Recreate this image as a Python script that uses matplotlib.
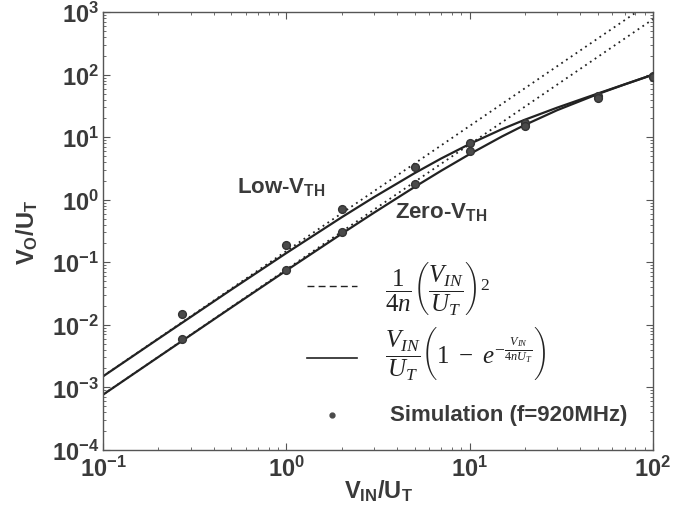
import math
import matplotlib
matplotlib.use("Agg")
import matplotlib.pyplot as plt
from matplotlib.ticker import LogLocator, FuncFormatter, NullFormatter
from matplotlib.lines import Line2D
from matplotlib.transforms import Bbox

plt.rcParams['mathtext.fontset'] = 'custom'
plt.rcParams['mathtext.rm'] = 'Liberation Serif'
plt.rcParams['mathtext.it'] = 'Liberation Serif:italic'
plt.rcParams['mathtext.bf'] = 'Liberation Sans:bold'
plt.rcParams['font.family'] = ['Liberation Sans', 'DejaVu Sans']

# ---- data ----
x_curve = [0.1, 0.2, 0.5, 1, 2, 3, 5, 7, 10, 15, 20, 30, 50, 70, 100]
low_solid = [0.001504, 0.00597, 0.0365, 0.1406, 0.523, 1.096, 2.656, 4.577,
             7.80, 13.45, 19.03, 29.68, 49.97, 70.0, 100.0]
zero_solid = [0.000766, 0.003053, 0.01887, 0.0740, 0.2851, 0.618, 1.597, 2.915,
              5.366, 10.27, 15.71, 27.02, 48.93, 69.68, 99.95]
x_quad = [0.1, 1, 10, 100]
low_quad = [0.001515, 0.1515, 15.15, 1515.0]
zero_quad = [0.000769, 0.0769, 7.69, 769.0]

x_sim = [0.27, 1, 2, 5, 10, 20, 50, 100]
low_sim = [0.015, 0.19, 0.70, 3.3, 8.0, 17.0, 45.0, 96.0]
zero_sim = [0.006, 0.075, 0.30, 1.8, 6.0, 15.0, 43.0, 92.0]

W, H = 688, 506
txt = '#3a3a3a'
fig = plt.figure(figsize=(W / 100, H / 100), dpi=100)
ax = fig.add_axes([0.150, 0.109, 0.799, 0.865])

ax.plot(x_quad, low_quad, color='#222222', lw=1.3, ls=(0, (1, 2.2)))
ax.plot(x_quad, zero_quad, color='#222222', lw=1.3, ls=(0, (1, 2.2)))
ax.plot(x_curve, low_solid, color='#222222', lw=1.6)
ax.plot(x_curve, zero_solid, color='#222222', lw=1.6)
ax.plot(x_sim, low_sim, 'o', color='#4a4a4a', ms=5.6, mec='#333333', zorder=5)
ax.plot(x_sim, zero_sim, 'o', color='#4a4a4a', ms=5.6, mec='#333333', zorder=5)

ax.set_xscale('log')
ax.set_yscale('log')
ax.set_xlim(0.1, 100)
ax.set_ylim(1e-4, 1e3)

fmt = FuncFormatter(lambda v, p: r'$\mathbf{10^{%d}}$' % round(math.log10(v)))
ax.xaxis.set_major_locator(LogLocator(base=10, numticks=10))
ax.yaxis.set_major_locator(LogLocator(base=10, numticks=10))
ax.xaxis.set_minor_locator(LogLocator(base=10, subs=range(2, 10), numticks=10))
ax.yaxis.set_minor_locator(LogLocator(base=10, subs=range(2, 10), numticks=10))
ax.xaxis.set_major_formatter(fmt)
ax.yaxis.set_major_formatter(fmt)
ax.xaxis.set_minor_formatter(NullFormatter())
ax.yaxis.set_minor_formatter(NullFormatter())
ax.tick_params(which='both', direction='in', top=True, right=True, colors='#555555',
               labelcolor=txt, labelsize=17)
ax.tick_params(which='major', length=5, width=0.8)
ax.tick_params(which='minor', length=2.5, width=0.6)
ax.tick_params(axis='x', pad=4)
ax.tick_params(axis='y', pad=3)
for s in ax.spines.values():
    s.set_color('#555555')
    s.set_linewidth(1.0)

ax.set_xlabel(r'$\mathbf{V_{IN}/U_{T}}$', fontsize=17, color=txt)
ax.xaxis.set_label_coords(0.5, -0.062)
ax.set_ylabel(r'$\mathbf{V_{O}/U_{T}}$', fontsize=17, color=txt)
ax.yaxis.set_label_coords(-0.115, 0.5)

ax.text(0.54, 1.64, r'Low-$\mathbf{V_{TH}}$', fontsize=16, fontweight='bold', color=txt,
        ha='left', va='center')
ax.text(3.92, 0.655, r'Zero-$\mathbf{V_{TH}}$', fontsize=16, fontweight='bold', color=txt,
        ha='left', va='center')

# custom legend (figure pixel positions converted to figure fractions)
def fx(px):
    return px / W

def fy(py):
    return 1 - py / H

fml = 18
fig.add_artist(Line2D([fx(307), fx(357)], [fy(287), fy(287)], color='#222222', lw=1.0,
                      ls=(0, (5, 3))))
fig.text(fx(385), fy(299), r'$\dfrac{1}{4n}\left(\dfrac{V_{IN}}{U_T}\right)^2$',
         fontsize=fml, ha='left', va='baseline', color='#222222')

fig.add_artist(Line2D([fx(307), fx(357)], [fy(359), fy(359)], color='#222222', lw=1.2))
# the trailing (hidden) fraction only serves to size the closing parenthesis
f2 = fig.text(fx(385), fy(364),
              r'$\left.\dfrac{V_{IN}}{U_T}\right(1\ -\ e^{-\frac{V_{IN}}{4nU_T}}'
              r'\left)\qquad\dfrac{V_{IN}}{U_T}\right.$',
              fontsize=fml, ha='left', va='baseline', color='#222222')
probe = fig.text(0, 0, r'$\dfrac{V_{IN}}{U_T}$', fontsize=fml)

fig.add_artist(Line2D([fx(332)], [fy(416)], marker='o', color='#4a4a4a', ms=3.5, lw=0))
fig.text(fx(390), fy(416), 'Simulation (f=920MHz)', fontsize=16,
         fontweight='bold', color=txt, ha='left', va='center')

fig.canvas.draw()
rend = fig.canvas.get_renderer()
e2 = f2.get_window_extent(rend)
ep = probe.get_window_extent(rend)
probe.remove()
cut = e2.x1 - ep.width - 2.5 - 0.5 * 2 * fml * 100 / 72
f2.set_clip_box(Bbox.from_extents(0, 0, cut, H))
f2.set_clip_on(True)

fig.savefig('out.png', dpi=100)
